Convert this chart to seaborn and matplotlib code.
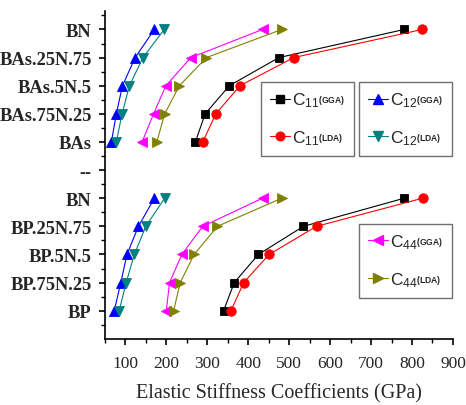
import numpy as np
import pandas as pd
import matplotlib
matplotlib.use("Agg")
import matplotlib.pyplot as plt
import seaborn as sns
from matplotlib.lines import Line2D
from matplotlib.ticker import MultipleLocator, FixedLocator

# Row labels, bottom to top
ytick_labels = ["BP", "BP.75N.25", "BP.5N.5", "BP.25N.75", "BN", "--",
                "BAs", "BAs.75N.25", "BAs.5N.5", "BAs.25N.75", "BN"]
bp_rows = ["BP", "BP.75N.25", "BP.5N.5", "BP.25N.75", "BN"]
bas_rows = ["BAs", "BAs.75N.25", "BAs.5N.5", "BAs.25N.75", "BN"]

# Elastic constants (GPa), BP–BN alloys, BP -> BN
bp_c11_gga = [340, 366, 425, 535, 781]
bp_c11_lda = [358, 389, 451, 567, 826]
bp_c12_gga = [73, 89, 104, 132, 171]
bp_c12_lda = [85, 102, 122, 150, 196]
bp_c44_gga = [200, 208, 238, 289, 435]
bp_c44_lda = [218, 234, 268, 325, 482]

# Elastic constants (GPa), BAs–BN alloys, BAs -> BN
bas_c11_gga = [271, 295, 354, 475, 781]
bas_c11_lda = [289, 321, 380, 511, 825]
bas_c12_gga = [66, 78, 93, 124, 171]
bas_c12_lda = [78, 92, 110, 143, 195]
bas_c44_gga = [141, 169, 199, 260, 435]
bas_c44_lda = [177, 196, 232, 298, 482]

series = {
    ("C11", "GGA"): (bp_c11_gga, bas_c11_gga),
    ("C11", "LDA"): (bp_c11_lda, bas_c11_lda),
    ("C12", "GGA"): (bp_c12_gga, bas_c12_gga),
    ("C12", "LDA"): (bp_c12_lda, bas_c12_lda),
    ("C44", "GGA"): (bp_c44_gga, bas_c44_gga),
    ("C44", "LDA"): (bp_c44_lda, bas_c44_lda),
}

styles = {
    ("C11", "GGA"): dict(color="#000000", marker="s", ms=6.0),
    ("C11", "LDA"): dict(color="#FF0000", marker="o", ms=6.8),
    ("C12", "GGA"): dict(color="#0000FF", marker="^", ms=7.2),
    ("C12", "LDA"): dict(color="#008080", marker="v", ms=7.2),
    ("C44", "GGA"): dict(color="#FF00FF", marker="<", ms=7.2),
    ("C44", "LDA"): dict(color="#808000", marker=">", ms=7.2),
}

records = []
for (coef, method), (bp_vals, bas_vals) in series.items():
    for row, v in zip(bp_rows, bp_vals):
        records.append(dict(coef=coef, method=method, system="BP",
                            row=row, pos=ytick_labels.index(row), value=v))
    for row, v in zip(bas_rows, bas_vals):
        pos = len(ytick_labels) - 1 - bas_rows[::-1].index(row)
        records.append(dict(coef=coef, method=method, system="BAs",
                            row=row, pos=pos, value=v))
df = pd.DataFrame(records)

sns.set_style("ticks")
plt.rcParams["mathtext.fontset"] = "custom"
plt.rcParams["mathtext.rm"] = "Liberation Sans"
plt.rcParams["mathtext.it"] = "Liberation Sans"
plt.rcParams["mathtext.bf"] = "Liberation Sans:bold"
plt.rcParams["mathtext.default"] = "regular"

fig = plt.figure(figsize=(4.66, 4.06), dpi=100)
ax = fig.add_axes([0.225, 0.163, 0.747, 0.807])

for key, st in styles.items():
    for system in ["BP", "BAs"]:
        sub = df[(df.coef == key[0]) & (df.method == key[1]) & (df.system == system)]
        sns.lineplot(data=sub, x="value", y="pos", orient="y", sort=False,
                     estimator=None, color=st["color"], marker=st["marker"],
                     markersize=st["ms"], markeredgecolor=st["color"],
                     markeredgewidth=0.6, linewidth=0.8, legend=False, ax=ax)

ax.set_xlim(50, 900)
ax.set_ylim(-1, 10.65)
ax.xaxis.set_major_locator(MultipleLocator(100))
ax.xaxis.set_minor_locator(MultipleLocator(50))
ax.yaxis.set_major_locator(FixedLocator(range(len(ytick_labels))))
ax.yaxis.set_minor_locator(FixedLocator(np.arange(-0.5, 10.6, 1.0)))
ax.set_yticklabels(ytick_labels, fontfamily="Liberation Serif",
                   fontweight="bold", fontsize=13.3)
for lab in ax.get_xticklabels():
    lab.set_fontfamily("Liberation Serif")
    lab.set_fontsize(12.5)
ax.tick_params(axis="both", which="major", direction="out", length=4.5,
               width=1.2, color="black")
ax.tick_params(axis="y", which="major", pad=5)
ax.tick_params(axis="x", which="major", pad=7)
ax.tick_params(axis="both", which="minor", direction="out", length=3,
               width=1.0, color="black")
ax.set_xlabel("Elastic Stiffness Coefficients (GPa)", fontfamily="Liberation Serif",
              fontsize=14.5, labelpad=9)
ax.set_ylabel("")
sns.despine(ax=ax)
for s in ["left", "bottom"]:
    ax.spines[s].set_linewidth(1.2)
    ax.spines[s].set_color("black")


def handle(key):
    st = styles[key]
    return Line2D([], [], color=st["color"], marker=st["marker"],
                  markersize=st["ms"] - 0.6, markeredgecolor=st["color"],
                  linewidth=0.8)


def label(coef, method):
    return r"C$_{%s^{\mathbf{(%s)}}}$" % (coef[1:], method)


legend_kw = dict(loc="upper right", frameon=True, fancybox=False,
                 prop={"family": "Liberation Sans", "size": 12.5},
                 handlelength=1.15, handletextpad=0.15, labelspacing=1.1,
                 borderpad=0.5, borderaxespad=0, edgecolor="#707070",
                 framealpha=1)

leg1 = ax.legend([handle(("C11", "GGA")), handle(("C11", "LDA"))],
                 [label("C11", "GGA"), label("C11", "LDA")],
                 bbox_to_anchor=(0.716, 0.784), **legend_kw)
ax.add_artist(leg1)
leg2 = ax.legend([handle(("C12", "GGA")), handle(("C12", "LDA"))],
                 [label("C12", "GGA"), label("C12", "LDA")],
                 bbox_to_anchor=(0.997, 0.784), **legend_kw)
ax.add_artist(leg2)
leg3 = ax.legend([handle(("C44", "GGA")), handle(("C44", "LDA"))],
                 [label("C44", "GGA"), label("C44", "LDA")],
                 bbox_to_anchor=(0.997, 0.351), **legend_kw)
for lg in (leg1, leg2, leg3):
    lg.get_frame().set_linewidth(1.0)

fig.savefig("out.png", dpi=100)
